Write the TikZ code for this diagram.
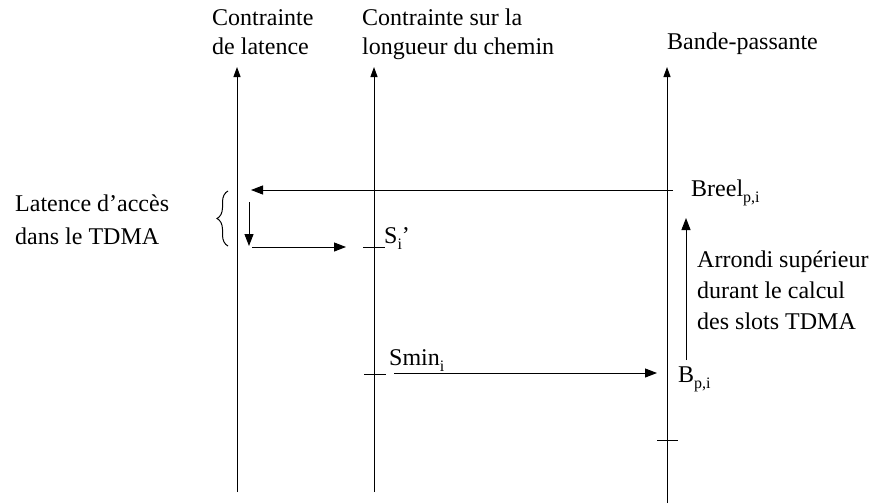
\documentclass[tikz,border=0pt]{standalone}
\usepackage{fontspec}
\setmainfont{Liberation Serif}
\usetikzlibrary{arrows.meta,decorations.pathreplacing}
\newcommand\mysub[1]{\raisebox{-6pt}{\fontsize{16}{16}\selectfont #1}}
\begin{document}
\begin{tikzpicture}[x=1pt,y=-1pt,
  axis/.style={line width=1pt,-{Triangle[length=10pt,width=7pt]}},
  arr/.style={line width=1pt,-{Triangle[length=12pt,width=9pt]}},
  tick/.style={line width=1pt},
  lbl/.style={anchor=base west,inner sep=0pt,font=\fontsize{24}{30}\selectfont},
  every node/.style={inner sep=0pt}]
\useasboundingbox (0,0) rectangle (877,503);
% axes
\coordinate (l0) at (237,492); \coordinate (l1) at (237,67);
\coordinate (m0) at (374,492); \coordinate (m1) at (374,67);
\coordinate (r0) at (667,503); \coordinate (r1) at (667,67);
\draw[axis] (l0) -- (l1);
\draw[axis] (m0) -- (m1);
\draw[axis] (r0) -- (r1);
% titles
\node[lbl] (t1a) at (212,26) {Contrainte};
\node[lbl] (t1b) at (212,55) {de latence};
\node[lbl] (t2a) at (362,26) {Contrainte sur la};
\node[lbl] (t2b) at (362,55) {longueur du chemin};
\node[lbl] (t3) at (667,49) {Bande-passante};
% left label and brace
\node[lbl] (la) at (15,211) {Latence d’accès};
\node[lbl] (lb) at (15,244) {dans le TDMA};
\coordinate (bb) at (228,246); \coordinate (bt) at (228,191);
\draw[line width=1pt,decorate,decoration={brace,amplitude=11pt}] (bb) -- (bt);
% top arrow
\coordinate (ta0) at (673,190); \coordinate (ta1) at (251,190);
\draw[arr] (ta0) -- (ta1);
\node[lbl] (breel) at (691,196) {Breel\mysub{p,i}};
% down arrow
\coordinate (da0) at (249,202); \coordinate (da1) at (249,246);
\draw[arr] (da0) -- (da1);
% horizontal to S_i'
\coordinate (ha0) at (252,247); \coordinate (ha1) at (346,247);
\draw[arr] (ha0) -- (ha1);
\coordinate (s0) at (363,247); \coordinate (s1) at (385,247);
\draw[tick] (s0) -- (s1);
\node[lbl] (si) at (384,243) {S\mysub{i}’};
% Smin arrow
\coordinate (k0) at (364,374); \coordinate (k1) at (386,374);
\draw[tick] (k0) -- (k1);
\node[lbl] (smin) at (389,365) {Smin\mysub{i}};
\coordinate (sa0) at (394,373); \coordinate (sa1) at (657,373);
\draw[arr] (sa0) -- (sa1);
\node[lbl] (bpi) at (678,382) {B\mysub{p,i}};
% right bottom tick
\coordinate (rt0) at (657,440); \coordinate (rt1) at (678,440);
\draw[tick] (rt0) -- (rt1);
% up arrow
\coordinate (ua0) at (686,360); \coordinate (ua1) at (686,218);
\draw[arr] (ua0) -- (ua1);
\node[lbl] (ar1) at (697,267) {Arrondi supérieur};
\node[lbl] (ar2) at (697,298) {durant le calcul};
\node[lbl] (ar3) at (697,329) {des slots TDMA};
\end{tikzpicture}
\end{document}
